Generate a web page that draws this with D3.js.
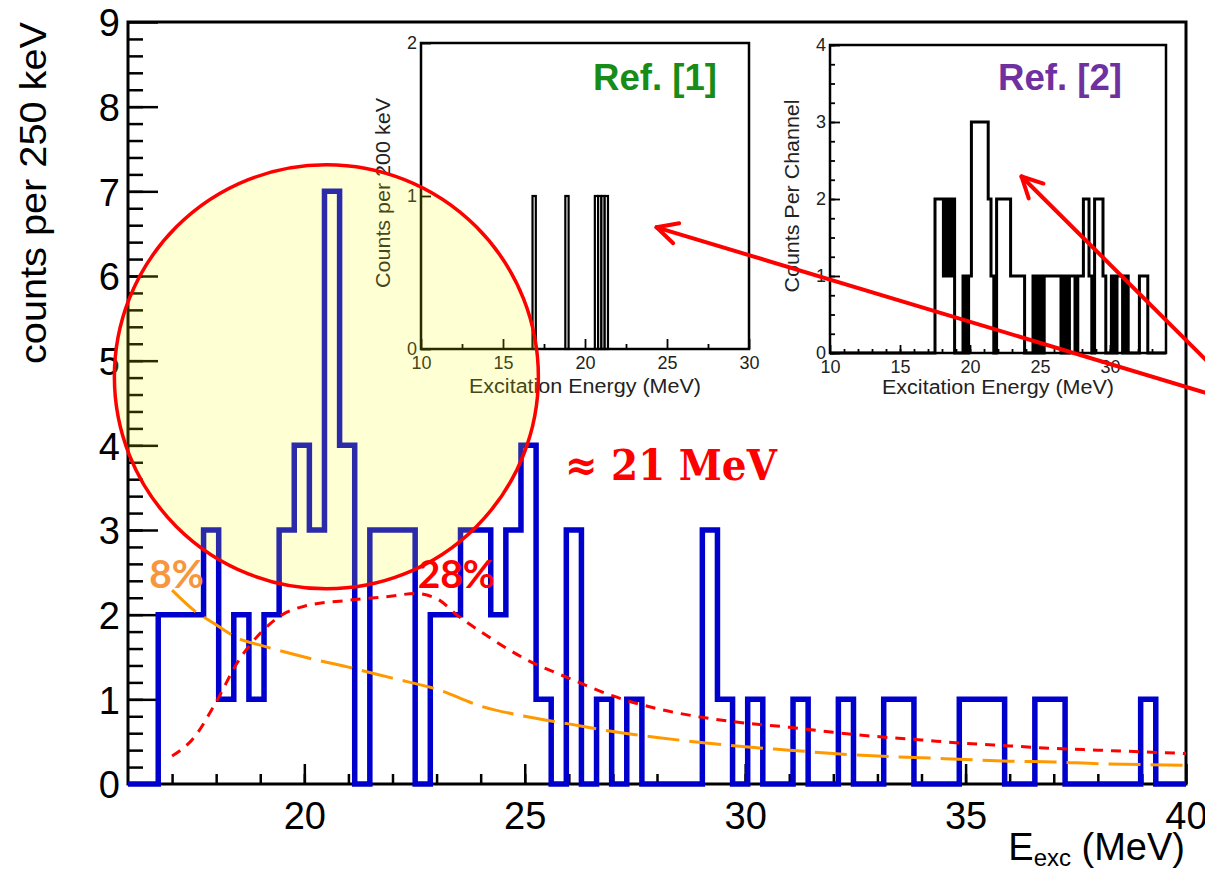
<!DOCTYPE html>
<html>
<head>
<meta charset="utf-8">
<script src="https://cdn.jsdelivr.net/npm/d3@7"></script>
<style>
  body { margin:0; background:#fff; }
  svg { display:block; }
</style>
</head>
<body>
<script>
//main histogram: 70 bins between 16 and 40 MeV
var xMin = 16, xMax = 40;
var binCounts = [0,0,2,2,2,3,1,2,1,2, 3,4,3,7,4,0,3,3,3,0,
                 2,2,3,3,2,3,4,1,0,3, 0,1,0,1,0,0,0,0,3,1,
                 0,1,0,0,1,0,0,1,0,0, 1,1,0,0,0,1,1,1,0,0,
                 1,1,0,0,0,0,0,1,0,0];

//red short dashed curve (28%)
var redE   = [17.0,17.5,18.0,18.5,19.0,19.5,20.0,21.0,22.0,22.5,23.0,23.5,24.0,25.0,26.0,27.0,28.0,29.0,30.0,31.0,32.0,33.0,34.0,35.0,36.0,37.0,38.0,39.0,40.0];
var redVal = [0.33,0.55,0.97,1.45,1.78,2.0,2.1,2.17,2.22,2.25,2.19,1.98,1.8,1.48,1.25,1.04,0.89,0.79,0.72,0.67,0.61,0.56,0.52,0.48,0.45,0.42,0.40,0.38,0.36];

//orange long dashed curve (8%)
var orangeE   = [17.0,17.5,18.0,18.5,19.0,20.0,21.0,22.0,23.0,24.0,25.0,26.0,27.0,28.0,29.0,30.0,31.0,32.0,33.0,34.0,35.0,36.0,37.0,38.0,39.0,40.0];
var orangeVal = [2.29,2.05,1.88,1.72,1.64,1.50,1.38,1.25,1.12,0.92,0.80,0.71,0.62,0.55,0.49,0.44,0.40,0.36,0.33,0.31,0.29,0.27,0.26,0.24,0.23,0.22];

var xMajor = [20,25,30,35,40];
var yMajor = [0,1,2,3,4,5,6,7,8,9];

//inset Ref. [1]: bins of 200 keV with one count
var ref1Start = [16.8,18.8,20.6,20.8,21.0,21.2];
var ref1Count = [1,1,1,1,1,1];
var ref1Width = 0.2;

//inset Ref. [2]: channels from 17.5 MeV
var ref2First = 17.5, ref2Width = 0.2;
var ref2Counts = [2,2,2,1,2,1,2,0,0,0,1,0,1,3,3,3,3,3,3,2,1,0,2,2,2,2,2,1,1,1,1,1,0,0,0,1,0,1,0,1,1,1,1,1,1,0,1,0,1,1,0,1,1,2,2,1,0,2,2,2,1,0,0,1,0,1,1,0,1,0,0,0,0,1,1,1,0];

//annotations (data coordinates of main chart)
var circleCenter = [20.5, 4.81];
var arrowTips  = [[27.99,6.575],[36.27,7.175]];
var arrowTails = [[40.45,4.62],[40.45,5.01]];

var W = 1205, H = 872;
var svg = d3.select("body").append("svg").attr("width",W).attr("height",H);
svg.append("rect").attr("width",W).attr("height",H).attr("fill","#fff");

var x = d3.scaleLinear().domain([xMin,xMax]).range([128,1186]);
var y = d3.scaleLinear().domain([0,9]).range([784,22]);

function styleAxis(g, size){
    g.select(".domain").remove();
    g.selectAll("line").attr("stroke","#000").attr("stroke-width",2.5);
    g.selectAll("text").attr("font-family","'Liberation Sans', Arial, sans-serif").attr("font-size",size).attr("fill","#000");
}

//minor ticks
svg.append("g").attr("transform","translate(0,784)")
   .call(d3.axisBottom(x).tickValues(d3.range(17,40,1)).tickSize(-10).tickFormat(""))
   .call(styleAxis, 38);
svg.append("g").attr("transform","translate(128,0)")
   .call(d3.axisLeft(y).tickValues(d3.range(0,45).map(function(i){ return i*0.2; })).tickSize(-15).tickFormat(""))
   .call(styleAxis, 38);

//major ticks + labels
svg.append("g").attr("transform","translate(0,784)")
   .call(d3.axisBottom(x).tickValues(xMajor).tickSize(-20).tickPadding(18).tickFormat(d3.format("d")))
   .call(styleAxis, 38);
svg.append("g").attr("transform","translate(128,0)")
   .call(d3.axisLeft(y).tickValues(yMajor).tickSize(-30).tickPadding(8).tickFormat(d3.format("d")))
   .call(function(g){ styleAxis(g, 38); g.selectAll("text").attr("dy","0.36em"); });

//frame
svg.append("rect").attr("x",x(xMin)).attr("y",y(9)).attr("width",x(xMax)-x(xMin)).attr("height",y(0)-y(9))
   .attr("fill","none").attr("stroke","#000").attr("stroke-width",3);

//axis titles
svg.append("text").attr("transform","translate(33,193) rotate(-90)")
   .attr("text-anchor","middle").attr("dy","0.35em")
   .attr("font-family","'Liberation Sans', Arial, sans-serif").attr("font-size",36)
   .attr("textLength",342).attr("lengthAdjust","spacingAndGlyphs")
   .text("counts per 250 keV");

var xt = svg.append("text").attr("x",1185).attr("y",860).attr("text-anchor","end")
   .attr("font-family","'Liberation Sans', Arial, sans-serif").attr("font-size",38);
xt.append("tspan").text("E");
xt.append("tspan").attr("font-size",24).attr("dy",6).text("exc");
xt.append("tspan").attr("dy",-6).text(" (MeV)");

//---------- insets ----------
function insetAxes(g, sx, sy, o){
    g.append("g").attr("transform","translate(0,"+sy.range()[0]+")")
     .call(d3.axisBottom(sx).tickValues(o.xMinor).tickSize(-o.minorLen).tickFormat(""))
     .call(styleAxis, 18);
    g.append("g").attr("transform","translate(0,"+sy.range()[0]+")")
     .call(d3.axisBottom(sx).tickValues(o.xMajor).tickSize(-o.majorLen).tickPadding(7).tickFormat(d3.format("d")))
     .call(styleAxis, 18);
    if (o.yMinor) {
        g.append("g").attr("transform","translate("+sx.range()[0]+",0)")
         .call(d3.axisLeft(sy).tickValues(o.yMinor).tickSize(-5).tickFormat(""))
         .call(styleAxis, 18);
    }
    g.append("g").attr("transform","translate("+sx.range()[0]+",0)")
     .call(d3.axisLeft(sy).tickValues(o.yMajor).tickSize(-10).tickPadding(4).tickFormat(d3.format("d")))
     .call(styleAxis, 18);
    g.selectAll("text").attr("fill","#222");
    g.selectAll("line").attr("stroke-width",1.8);

    g.append("rect").attr("x",sx.range()[0]).attr("y",sy.range()[1])
     .attr("width",sx.range()[1]-sx.range()[0]).attr("height",sy.range()[0]-sy.range()[1])
     .attr("fill","none").attr("stroke","#000").attr("stroke-width",2.5);

    g.append("text").attr("x",(sx.range()[0]+sx.range()[1])/2 + o.titleShift).attr("y",o.titleY)
     .attr("text-anchor","middle").attr("font-family","'Liberation Sans', Arial, sans-serif")
     .attr("font-size",20).attr("fill","#222")
     .attr("textLength",232).attr("lengthAdjust","spacingAndGlyphs")
     .text("Excitation Energy (MeV)");

    g.append("text").attr("transform","translate("+o.yTitleX+","+o.yTitleY+") rotate(-90)")
     .attr("text-anchor","middle").attr("dy","0.35em")
     .attr("font-family","'Liberation Sans', Arial, sans-serif").attr("font-size",20).attr("fill","#222")
     .attr("textLength",o.yTitleLen).attr("lengthAdjust","spacingAndGlyphs")
     .text(o.yTitle);
}

//Ref. [1]
var x1 = d3.scaleLinear().domain([10,30]).range([421,749]);
var y1 = d3.scaleLinear().domain([0,2]).range([349,43]);
var ins1 = svg.append("g").attr("class","inset1");
ins1.selectAll("rect.bin").data(ref1Start).enter().append("rect")
    .attr("class","bin")
    .attr("x",function(d){ return x1(d); })
    .attr("width",function(d){ return x1(d+ref1Width)-x1(d); })
    .attr("y",function(d,i){ return y1(ref1Count[i]); })
    .attr("height",function(d,i){ return y1(0)-y1(ref1Count[i]); })
    .attr("fill","#fff").attr("stroke","#000").attr("stroke-width",2.2);
insetAxes(ins1, x1, y1, {
    xMinor:[12.5,17.5,22.5,27.5], xMajor:[10,15,20,25,30], minorLen:5, majorLen:10,
    yMajor:[0,1,2], yMinor:null, titleY:393, titleShift:0,
    yTitle:"Counts per 200 keV", yTitleX:383, yTitleY:193, yTitleLen:190
});
ins1.append("text").attr("x",593).attr("y",90)
    .attr("font-family","'Liberation Sans', Arial, sans-serif").attr("font-weight","bold")
    .attr("font-size",36).attr("fill","#178c17")
    .attr("textLength",124).attr("lengthAdjust","spacingAndGlyphs").text("Ref. [1]");

//Ref. [2]
var x2 = d3.scaleLinear().domain([10,34]).range([830,1166]);
var y2 = d3.scaleLinear().domain([0,4]).range([353,45]);
var ins2 = svg.append("g").attr("class","inset2");
var ref2Pts = [[10,0]];
ref2Counts.forEach(function(c,i){ ref2Pts.push([ref2First + i*ref2Width, c]); });
ref2Pts.push([ref2First + ref2Counts.length*ref2Width, 0]);
ref2Pts.push([34,0]);
ins2.append("path")
    .attr("d", d3.line().x(function(d){ return x2(d[0]); }).y(function(d){ return y2(d[1]); }).curve(d3.curveStepAfter)(ref2Pts))
    .attr("fill","none").attr("stroke","#000").attr("stroke-width",3);
insetAxes(ins2, x2, y2, {
    xMinor:d3.range(11,34,1), xMajor:[10,15,20,25,30], minorLen:4, majorLen:8,
    yMajor:[0,1,2,3,4], yMinor:d3.range(0,17).map(function(i){ return i*0.25; }), titleY:394, titleShift:0,
    yTitle:"Counts Per Channel", yTitleX:792, yTitleY:196, yTitleLen:193
});
ins2.append("text").attr("x",998).attr("y",90)
    .attr("font-family","'Liberation Sans', Arial, sans-serif").attr("font-weight","bold")
    .attr("font-size",36).attr("fill","#7030a0")
    .attr("textLength",124).attr("lengthAdjust","spacingAndGlyphs").text("Ref. [2]");

//---------- histogram ----------
var binW = (xMax-xMin)/binCounts.length;
var histPts = binCounts.map(function(c,i){ return [xMin + i*binW, c]; });
histPts.push([xMax, binCounts[binCounts.length-1]]);
var stepLine = d3.line().x(function(d){ return x(d[0]); }).y(function(d){ return y(d[1]); }).curve(d3.curveStepAfter);
svg.append("path").attr("d", stepLine(histPts))
   .attr("fill","none").attr("stroke","#0000cc").attr("stroke-width",5.5);

//---------- curves ----------
var curve = d3.line().x(function(d){ return x(d[0]); }).y(function(d){ return y(d[1]); }).curve(d3.curveMonotoneX);
svg.append("path").attr("d", curve(d3.zip(orangeE, orangeVal)))
   .attr("fill","none").attr("stroke","#ff9900").attr("stroke-width",3).attr("stroke-dasharray","32,10");
svg.append("path").attr("d", curve(d3.zip(redE, redVal)))
   .attr("fill","none").attr("stroke","#ff0000").attr("stroke-width",3).attr("stroke-dasharray","10,8");

//---------- circle ----------
svg.append("circle").attr("cx",x(circleCenter[0])).attr("cy",y(circleCenter[1])).attr("r",212)
   .attr("fill","#ffff00").attr("fill-opacity",0.17)
   .attr("stroke","#ff0000").attr("stroke-width",3.5);

//---------- labels ----------
svg.append("text").attr("x",x(16.48)).attr("y",y(2.31))
   .attr("font-family","Lato, 'Open Sans', sans-serif").attr("font-weight","bold")
   .attr("font-size",39).attr("fill","#f7963c").text("8%");
svg.append("text").attr("x",x(22.57)).attr("y",y(2.31))
   .attr("font-family","Lato, 'Open Sans', sans-serif").attr("font-weight","bold")
   .attr("font-size",39).attr("fill","#ff0000").text("28%");
svg.append("text").attr("x",x(25.91)).attr("y",y(3.59))
   .attr("font-family","'DejaVu Serif', serif").attr("font-weight","bold")
   .attr("font-size",42).attr("fill","#ff0000")
   .attr("textLength",212).attr("lengthAdjust","spacingAndGlyphs")
   .text("\u2248 21 MeV");

//---------- arrows ----------
arrowTips.forEach(function(tip,i){
    var tx = x(tip[0]), ty = y(tip[1]);
    var ex = x(arrowTails[i][0]), ey = y(arrowTails[i][1]);
    var ang = Math.atan2(ey-ty, ex-tx);
    var wing = 23, spread = 27*Math.PI/180;
    var g = svg.append("g").attr("stroke","#ff0000").attr("stroke-width",4).attr("stroke-linecap","round");
    g.append("line").attr("x1",tx).attr("y1",ty).attr("x2",ex).attr("y2",ey);
    [-1,1].forEach(function(s){
        g.append("line").attr("x1",tx).attr("y1",ty)
         .attr("x2",tx + wing*Math.cos(ang+s*spread)).attr("y2",ty + wing*Math.sin(ang+s*spread));
    });
});
</script>
</body>
</html>
